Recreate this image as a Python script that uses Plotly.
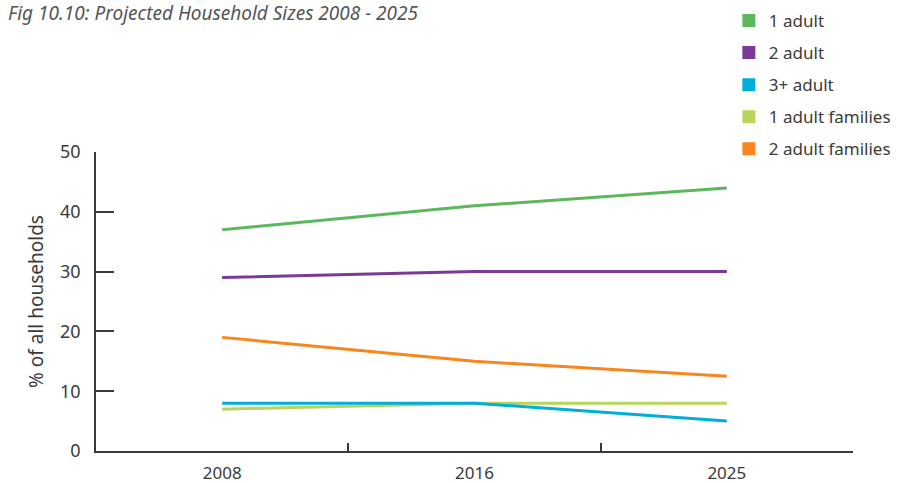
import plotly.graph_objects as go

years = ["2008", "2016", "2025"]
one_adult = [37, 41, 44]
two_adult = [29, 30, 30]
three_plus_adult = [8, 8, 5]
one_adult_families = [7, 8, 8]
two_adult_families = [19, 15, 12.5]

series = [
    ("1 adult", one_adult, "#5cb85c"),
    ("2 adult", two_adult, "#7b3a96"),
    ("3+ adult", three_plus_adult, "#00aedc"),
    ("1 adult families", one_adult_families, "#b6d55a"),
    ("2 adult families", two_adult_families, "#f7861f"),
]

fig = go.Figure()
draw_order = [0, 1, 4, 3, 2]
for i in draw_order:
    name, vals, col = series[i]
    fig.add_trace(go.Scatter(x=years, y=vals, mode="lines", name=name,
                             line=dict(color=col, width=3), showlegend=False))
for k, (name, vals, col) in enumerate(series):
    fig.add_trace(go.Scatter(x=[None], y=[None], mode="markers", name=name,
                             legendgroup=f"g{k}",
                             marker=dict(symbol="square", size=13, color=col),
                             showlegend=True))

axis_col = "#3a3a3a"
fig.update_layout(
    width=899, height=483,
    margin=dict(l=96, r=46, t=152, b=32, autoexpand=False),
    paper_bgcolor="white", plot_bgcolor="white",
    font=dict(family="Noto Sans", color="#3a3a3a"),
    title=dict(text="<i>Fig 10.10: Projected Household Sizes 2008 - 2025</i>",
               x=0.009, xanchor="left", y=0.973, yanchor="middle",
               font=dict(size=19, color="#555555")),
    legend=dict(x=0.836, xanchor="left", y=0.994, yref="container", yanchor="top",
                font=dict(size=17, color="#3a3a3a"), itemwidth=30,
                tracegroupgap=7, bgcolor="rgba(0,0,0,0)"),
    showlegend=True,
)
fig.update_xaxes(type="category", range=[-0.5, 2.5], tickson="boundaries",
                 ticks="inside", ticklen=8, tickcolor=axis_col, tickwidth=1.5,
                 showline=True, linecolor=axis_col, linewidth=1.5,
                 showgrid=False, zeroline=False, automargin=False,
                 tickfont=dict(size=17, color="#3a3a3a"), ticklabelstandoff=6)
fig.update_yaxes(range=[0, 50], dtick=10, tick0=0, ticks="inside", ticklen=18,
                 tickcolor=axis_col, tickwidth=1.5,
                 showline=True, linecolor=axis_col, linewidth=1.5,
                 showgrid=False, zeroline=False, automargin=False,
                 tickfont=dict(size=18, color="#3a3a3a"), ticklabelstandoff=10,
                 title=dict(text="% of all households", standoff=11,
                            font=dict(size=19, color="#3a3a3a")))

fig.write_html("out.html", config={"displayModeBar": False},
               post_script="document.body.style.margin='0';")
